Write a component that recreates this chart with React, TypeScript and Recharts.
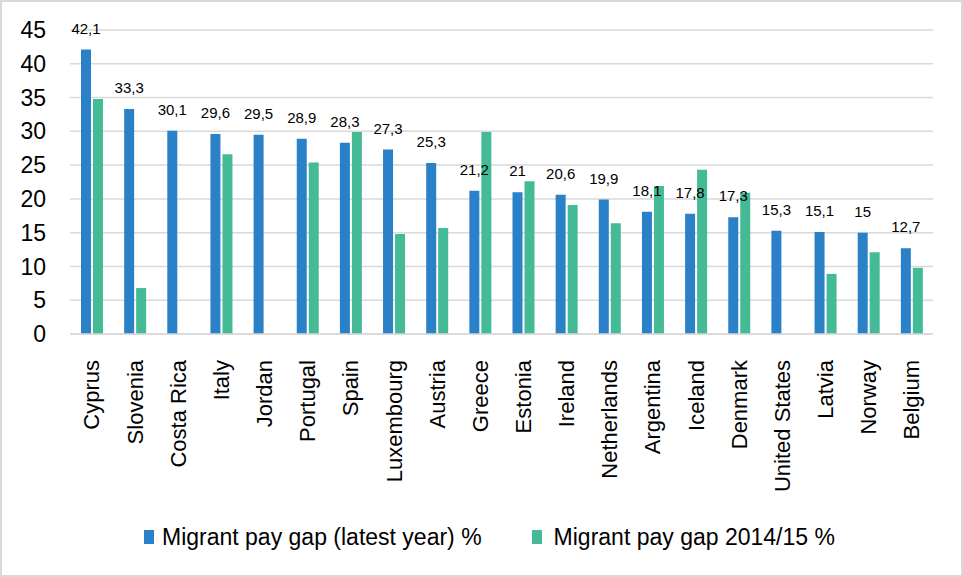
import React from 'react';
import { BarChart, Bar, XAxis, YAxis, CartesianGrid, Legend, LabelList } from 'recharts';

const countries = [
  'Cyprus', 'Slovenia', 'Costa Rica', 'Italy', 'Jordan', 'Portugal', 'Spain', 'Luxembourg', 'Austria', 'Greece',
  'Estonia', 'Ireland', 'Netherlands', 'Argentina', 'Iceland', 'Denmark', 'United States', 'Latvia', 'Norway', 'Belgium'
];
const latestGap = [42.1, 33.3, 30.1, 29.6, 29.5, 28.9, 28.3, 27.3, 25.3, 21.2, 21, 20.6, 19.9, 18.1, 17.8, 17.3, 15.3, 15.1, 15, 12.7];
const gap2014 = [34.8, 6.8, null, 26.6, null, 25.4, 29.9, 14.8, 15.7, 29.9, 22.6, 19.1, 16.4, 21.9, 24.3, 20.9, null, 8.9, 12.1, 9.8];
const yTicks = [0, 5, 10, 15, 20, 25, 30, 35, 40, 45];

const BLUE = '#2A81C7';
const GREEN = '#44BA96';
const FONT = '"Liberation Sans", Arial, sans-serif';

const chartData = countries.map((c, i) => ({ country: c, latest: latestGap[i], early: gap2014[i] }));

const CountryTick = (props: any) => {
  const { x, y, payload } = props;
  return (
    <g transform={`translate(${x},${y})`}>
      <text transform="rotate(-90)" x={-24} y={0} dy="0.36em" textAnchor="end" fontSize={22} fill="#000" fontFamily={FONT}>
        {payload.value}
      </text>
    </g>
  );
};

const LegendBox = () => (
  <div style={{ display: 'flex', justifyContent: 'flex-start', alignItems: 'center', fontFamily: FONT, fontSize: 23, color: '#000', height: 50 }}>
    <span style={{ display: 'inline-block', width: 10, height: 14, background: BLUE, marginLeft: 142, marginRight: 8 }} />
    <span>Migrant pay gap (latest year) %</span>
    <span style={{ display: 'inline-block', width: 10, height: 14, background: GREEN, marginLeft: 50, marginRight: 12 }} />
    <span>Migrant pay gap 2014/15 %</span>
  </div>
);

export default function App() {
  return (
    <div style={{ position: 'absolute', left: 0, top: 0, width: 963, height: 577, background: '#fff', border: '2px solid #d9d9d9', boxSizing: 'border-box' }}>
      <BarChart
        width={959}
        height={573}
        data={chartData}
        margin={{ top: 28, right: 28, left: 0, bottom: 13 }}
        barSize={10}
        barGap={2}
      >
        <CartesianGrid vertical={false} stroke="#d9d9d9" strokeWidth={1.5} />
        <XAxis
          dataKey="country"
          interval={0}
          height={178}
          tickLine={false}
          tickSize={0}
          axisLine={{ stroke: '#d9d9d9', strokeWidth: 1.5 }}
          tick={<CountryTick />}
        />
        <YAxis
          width={68}
          domain={[0, 45]}
          ticks={yTicks}
          interval={0}
          axisLine={false}
          tickLine={false}
          tickSize={0}
          tickMargin={24}
          tick={{ fontSize: 23, fill: '#000', fontFamily: FONT }}
        />
        <Legend verticalAlign="bottom" height={50} content={<LegendBox />} />
        <Bar dataKey="latest" fill={BLUE} isAnimationActive={false}>
          <LabelList
            dataKey="latest"
            position="top"
            offset={16}
            fontSize={15}
            fill="#000"
            fontFamily={FONT}
            formatter={(v: any) => String(v).replace('.', ',')}
          />
        </Bar>
        <Bar dataKey="early" fill={GREEN} isAnimationActive={false} />
      </BarChart>
    </div>
  );
}
